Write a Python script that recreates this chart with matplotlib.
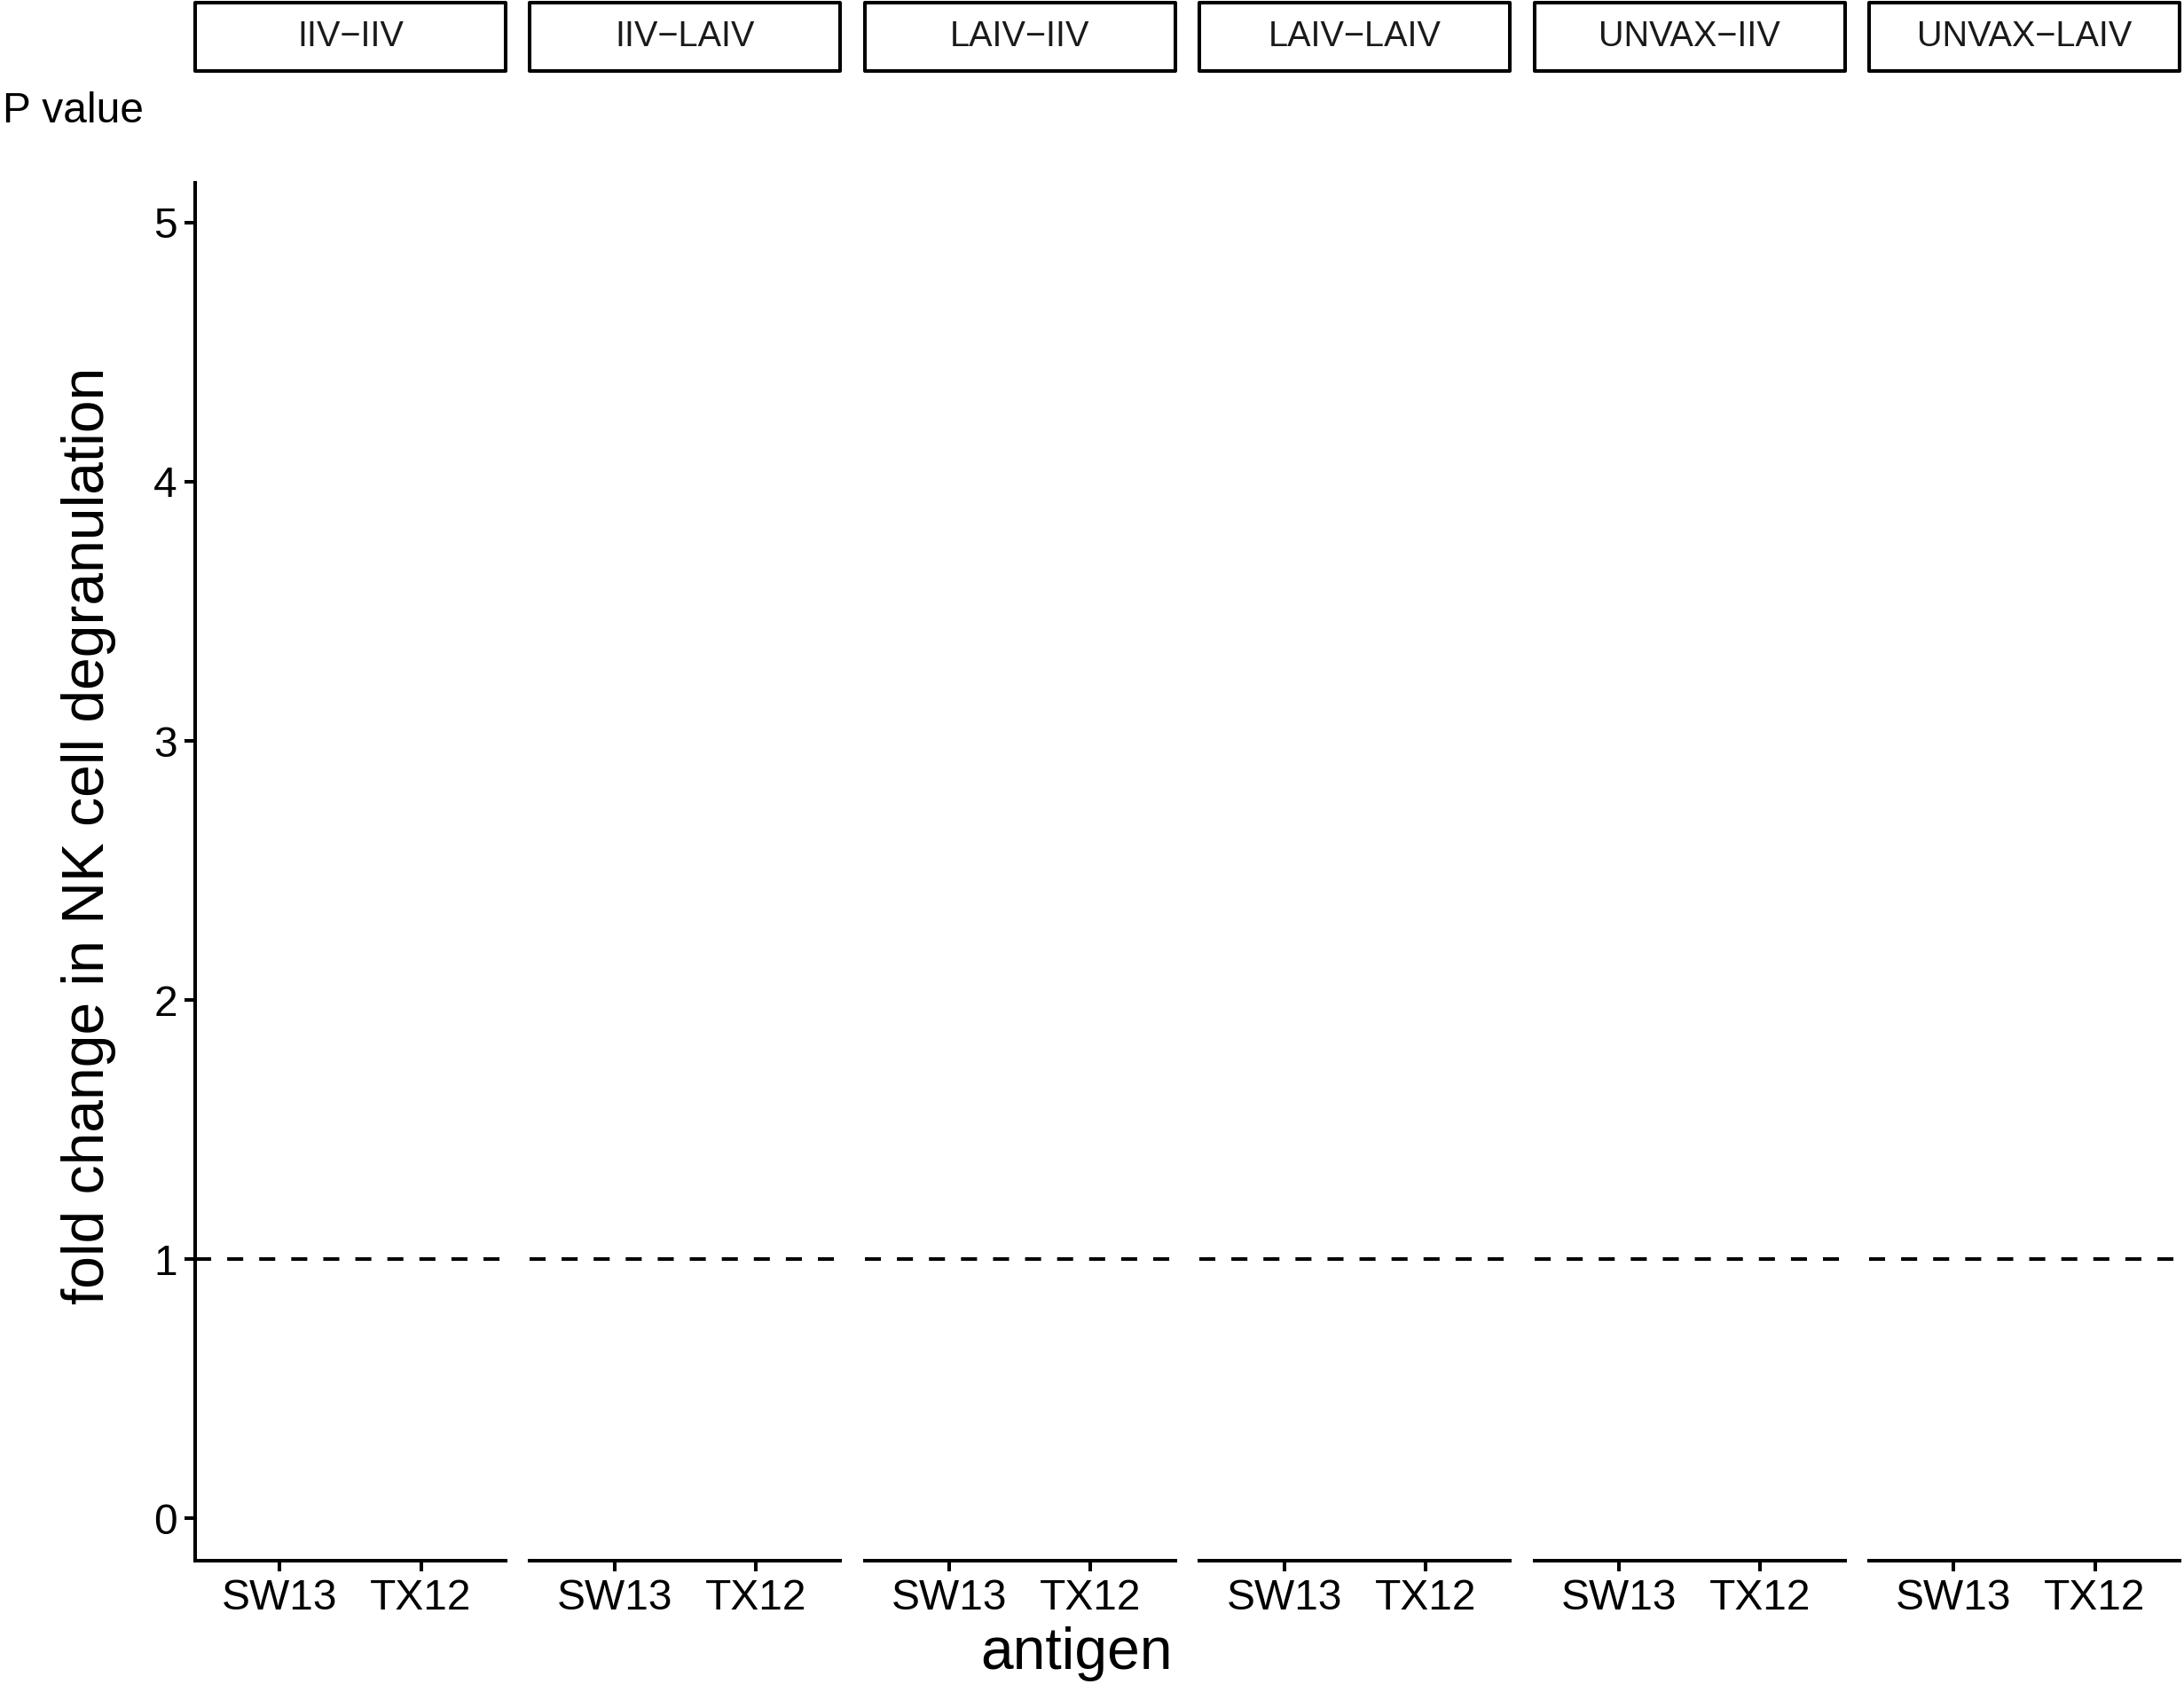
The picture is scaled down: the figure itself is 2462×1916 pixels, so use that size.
import matplotlib
matplotlib.use("Agg")
import matplotlib.pyplot as plt
from matplotlib.patches import Rectangle

# ---- data ----
panels = ["IIV\u2212IIV", "IIV\u2212LAIV", "LAIV\u2212IIV", "LAIV\u2212LAIV", "UNVAX\u2212IIV", "UNVAX\u2212LAIV"]
antigens = ["SW13", "TX12"]
y_ticks = [0, 1, 2, 3, 4, 5]
ref_line = 1
y_limits = (-0.164, 5.154)

plt.rcParams['font.family'] = ['Liberation Sans', 'DejaVu Sans']
plt.rcParams['lines.scale_dashes'] = False

W, H = 2462, 1916
DPI = 100
fig = plt.figure(figsize=(W / DPI, H / DPI), dpi=DPI)

def fx(px):
    return px / W

def fy(py):
    return 1 - py / H

panel_left0 = 220
panel_step = 377.4
panel_w = 350
panel_top = 206
panel_bot = 1759
strip_top = 3
strip_bot = 80

lw = 2.9
axes = []
for i, name in enumerate(panels):
    left = panel_left0 + i * panel_step
    ax = fig.add_axes([fx(left), fy(panel_bot), panel_w / W, (panel_bot - panel_top) / H])
    ax.set_xlim(0.4, len(antigens) + 0.6)
    ax.set_ylim(*y_limits)
    ax.set_xticks(range(1, len(antigens) + 1))
    ax.set_xticklabels(antigens, fontsize=34.5)
    line = ax.axhline(ref_line, color='black', linewidth=lw)
    line.set_dashes((13, 13))
    line.set_dash_capstyle('butt')
    for s in ['top', 'right']:
        ax.spines[s].set_visible(False)
    ax.spines['bottom'].set_linewidth(lw)
    ax.spines['left'].set_linewidth(lw)
    ax.spines['bottom'].set_capstyle('projecting')
    ax.tick_params(axis='both', length=8.5, width=lw, color='black', labelcolor='black', pad=6)
    if i == 0:
        ax.set_yticks(y_ticks)
        ax.set_yticklabels([str(t) for t in y_ticks], fontsize=34.5)
    else:
        ax.spines['left'].set_visible(False)
        ax.set_yticks([])
    ax.patch.set_alpha(0)
    # strip
    rect = Rectangle((fx(left), fy(strip_bot)), panel_w / W, (strip_bot - strip_top) / H,
                     transform=fig.transFigure, facecolor='white', edgecolor='black',
                     linewidth=2.9, joinstyle='round')
    fig.patches.append(rect)
    fig.text(fx(left + panel_w / 2), fy((strip_top + strip_bot) / 2), name,
             ha='center', va='center', fontsize=28.5, color='#1A1A1A')
    axes.append(ax)

fig.text(fx(3), fy(126), "P value", ha='left', va='center', fontsize=34.5)
fig.text(fx(1214), fy(1864), "antigen", ha='center', va='center', fontsize=47.5)
fig.text(fx(100), fy(942), "fold change in NK cell degranulation", ha='center', va='center',
         rotation=90, fontsize=47.5)

fig.savefig("out.png", dpi=DPI, facecolor='white')
